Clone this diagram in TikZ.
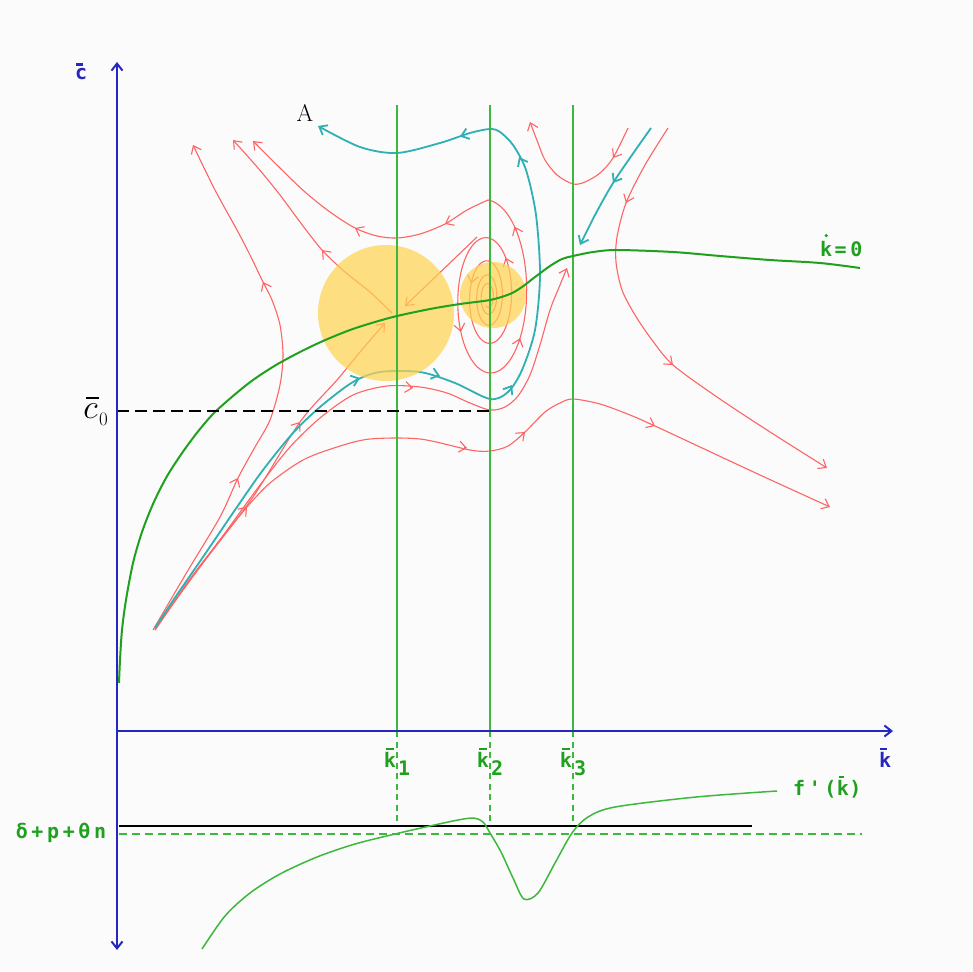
\documentclass[tikz,border=0pt]{standalone}
\usepackage{fix-cm}
\usepackage{fontspec}
\newfontfamily\pixfont{DejaVu Sans Mono}[LetterSpace=18]
\usetikzlibrary{arrows.meta}
\definecolor{bgcol}{HTML}{FBFBFB}
\definecolor{trajred}{HTML}{FF6464}
\definecolor{trajcyan}{HTML}{2EB0B4}
\definecolor{locus}{HTML}{1FA01F}
\definecolor{kline}{HTML}{3CB83C}
\definecolor{axiscol}{HTML}{2626C0}
\definecolor{focus}{HTML}{FFD34D}

\begin{document}
\begin{tikzpicture}[
    x=1pt, y=-1pt,
    >={Straight Barb[length=7pt, width=11pt]},
    traj/.style={trajred, line width=1.1pt},
    sep/.style={trajcyan, line width=1.8pt},
    axis/.style={axiscol, line width=2pt},
    vline/.style={kline, line width=1.5pt},
    pix/.style={font=\pixfont\bfseries\fontsize{20}{22}\selectfont, inner sep=0pt},
    barline/.style={line width=2.2pt},
]

% ---------------------------------------------------------------- frame
\fill[bgcol] (0,0) rectangle (973,971);
\useasboundingbox (0,0) rectangle (973,971);

% ---------------------------------------------------------------- red paths
% upper right
\draw[traj, ->] plot[smooth] coordinates {(628,128) (613,158) (600,173)
    (585,182) (573,184) (557,175) (545,160) (538,143) (530,122)};
\draw[traj, ->] plot[smooth] coordinates {(668,128) (645,165)
    (626,203) (617,237) (616,262) (622,290) (635,315) (652,340) (673,365)
    (717,397) (767,430) (827,468)};

% from the lower left
\draw[traj, ->] plot[smooth] coordinates {(155,630) (190,580) (222,537)
    (260,485) (290,447) (320,418) (353,395) (387,386) (420,387) (447,393)
    (470,403) (490,410) (505,407) (518,396) (530,375) (540,345) (550,310)
    (560,285) (567,268)};
\draw[traj, ->] plot[smooth] coordinates {
    (155,630) (187,583) (220,540) (247,507) (270,483) (303,460) (337,447)
    (370,439) (420,439) (470,450) (490,451) (508,446) (525,432) (545,412)
    (560,403) (573,399) (600,404) (630,415) (655,426) (700,447) (760,475)
    (830,507)};
\draw[traj, ->] plot[smooth] coordinates {(153,630) (187,572)
    (220,517) (238,478) (255,447) (270,420) (280,385) (283,355) (280,325)
    (272,300) (263,282) (250,255) (237,230) (215,190) (193,145)};
\draw[traj, ->] plot[smooth] coordinates {(155,628) (203,563) (253,497)
    (300,422) (337,380) (360,352) (385,323)};

% saddle at k1
\draw[traj, ->] plot[smooth] coordinates {(392,313) (370,292) (345,272)
    (322,250) (300,222) (280,195) (258,168) (233,140)};
\draw[traj, ->] (477,237) -- (405,306);

% focus at k2
\draw[traj] plot[domain=-120:1530, samples=331, variable=\t]
    ({488+0.45*97*exp(0.001374*(\t-1530))*cos(\t)},
     {297-97*exp(0.001374*(\t-1530))*sin(\t)});
\draw[traj, ->] plot[smooth] coordinates {(488,200) (467,210)
    (445,224) (420,234) (397,238) (377,236) (355,228) (330,212) (305,192)
    (280,168) (253,141)};

% direction marks
\draw[traj, ->] (614.6,155.5) -- (613,158);
\draw[traj, ->] (627.1,200.2) -- (626,203);
\draw[traj, ->] (670.7,363) -- (673,365);
\draw[traj, ->] (410,387.6) -- (413,388);
\draw[traj, ->] (245,509.2) -- (247,507);
\draw[traj, ->] (464,447.5) -- (467,448);
\draw[traj, ->] (522.8,434) -- (525,432);
\draw[traj, ->] (652.3,424.7) -- (655,426);
\draw[traj, ->] (236.7,480.7) -- (238,478);
\draw[traj, ->] (264.3,284.7) -- (263,282);
\draw[traj, ->] (298.3,424.4) -- (300,422);
\draw[traj, ->] (324,252.2) -- (322,250);
\draw[traj, ->] (447.7,222.6) -- (445,224);
\draw[traj, ->] (357.7,229.4) -- (355,228);
\foreach \a in {880, 1125, 1290, 1410, 1490}{
    \draw[traj, ->]
        ({488+0.45*97*exp(0.001374*(\a-3-1530))*cos(\a-3)},
         {297-97*exp(0.001374*(\a-3-1530))*sin(\a-3)}) --
        ({488+0.45*97*exp(0.001374*(\a-1530))*cos(\a)},
         {297-97*exp(0.001374*(\a-1530))*sin(\a)});
}

% ---------------------------------------------------------------- cyan paths
\draw[sep, ->] plot[smooth] coordinates {(155,628) (172,602) (203,557) (237,507)
    (263,470) (293,433) (320,407) (353,382) (380,372) (420,372) (455,383)
    (490,399) (508,392) (522,370) (535,330) (540,275) (536,215) (526,170)
    (513,145) (500,132) (490,129) (470,133) (440,143) (397,153) (360,147)
    (318,126)};
\draw[sep, ->] plot[smooth] coordinates {(651,128) (632,155) (613,183)
    (595,215) (580,245)};
\draw[sep, ->] (357.2,379) -- (360,378);
\draw[sep, ->] (437.1,375.1) -- (440,376);
\draw[sep, ->] (510.4,387.6) -- (512,385);
\draw[sep, ->] (520.4,159.7) -- (519,157);
\draw[sep, ->] (462.9,135.5) -- (460,136.5);
\draw[sep, ->] (614.6,180.4) -- (613,183);

% ---------------------------------------------------------------- equilibria
\fill[focus, opacity=0.7] (386,313) circle[radius=68];
\fill[focus, opacity=0.7] (493,295) circle[radius=33];

% ---------------------------------------------------------------- k lines
\foreach \kx/\kn in {397/1, 490/2, 573/3}{
    \draw[vline] (\kx,105) -- (\kx,731);
    \draw[vline, dash pattern=on 6pt off 4.5pt] (\kx,731) -- (\kx,826);
    \node[pix, text=locus, anchor=base east] (k\kn) at (\kx-1,767) {k};
    \node[pix, text=locus, anchor=base west] (s\kn) at (\kx+1,775) {\kn};
    \draw[locus, barline] ([xshift=2pt, yshift=3pt]k\kn.north west)
        -- ([xshift=-2pt, yshift=3pt]k\kn.north east);
}

% kdot = 0 locus
\draw[locus, line width=2pt] plot[smooth] coordinates {(119,683) (120,660)
    (122,630) (126,600) (133,563) (142,532) (153,504) (166,478) (180,456)
    (196,434) (213,414) (233,396) (253,380) (276,365) (300,352) (323,341)
    (350,330) (375,322) (397,316) (430,309) (460,304) (490,300) (510,294)
    (522,287) (535,277) (550,266) (562,259) (573,256) (593,252) (617,250)
    (673,252) (720,256) (770,260) (820,263) (860,268)};
\node[pix, text=locus, anchor=base west] (kdot) at (820,256) {k};
\node[pix, text=locus, anchor=base west] (keq) at ([xshift=2pt]kdot.base east) {=0};
\fill[locus] ([yshift=5pt]kdot.north) circle[radius=1.8];

% c0 level
\draw[black, line width=1.6pt, dash pattern=on 12pt off 6pt] (117,411) -- (490,411);
\node[font=\fontsize{34}{38}\selectfont, inner sep=0pt, anchor=base east]
    (c0) at (98,418) {$c$};
\node[font=\fontsize{19}{21}\selectfont, inner sep=0pt, anchor=base west]
    (c0sub) at (99,425) {0};
\draw[black, line width=1.5pt] ([xshift=3pt, yshift=5pt]c0.north west)
    -- ([xshift=1pt, yshift=5pt]c0.north east);
\node[font=\fontsize{24}{26}\selectfont] (lblA) at (305,113) {A};

% ---------------------------------------------------------------- lower panel
\draw[black, line width=1.6pt] (119,826) -- (752,826);
\draw[kline, line width=1.6pt, dash pattern=on 8pt off 5pt] (119,834) -- (862,834);
\node[pix, text=locus] (rate) at (61,833) {δ+p+θn};
\draw[kline, line width=1.5pt] plot[smooth] coordinates {(202,949) (225,916)
    (250,893) (280,874) (317,857) (355,844) (395,834) (430,826) (458,820)
    (474,818) (483,822) (490,833) (501,852) (513,878) (524,899) (538,893)
    (555,863) (572,833) (588,817) (615,807) (696,797) (777,791)};
\node[pix, text=locus, anchor=base west] (fpa) at (793,795) {f'(};
\node[pix, text=locus, anchor=base west] (fpk) at (fpa.base east) {k};
\node[pix, text=locus, anchor=base west] (fpb) at (fpk.base east) {)};
\draw[locus, barline] ([xshift=2pt, yshift=3pt]fpk.north west)
    -- ([xshift=-5pt, yshift=3pt]fpk.north east);

% ---------------------------------------------------------------- axes
\coordinate (origin) at (117,731);
\draw[axis, <->] (117,950) -- (117,62);
\draw[axis, ->] (origin) -- (893,731);
\node[pix, text=axiscol, anchor=base west] (cbar) at (75,80) {c};
\draw[axiscol, barline] ([xshift=1pt, yshift=4pt]cbar.north west)
    -- ([xshift=-4pt, yshift=4pt]cbar.north east);
\node[pix, text=axiscol, anchor=base west] (kbar) at (879,767) {k};
\draw[axiscol, barline] ([xshift=1pt, yshift=3pt]kbar.north west)
    -- ([xshift=-4pt, yshift=3pt]kbar.north east);

\end{tikzpicture}
\end{document}
